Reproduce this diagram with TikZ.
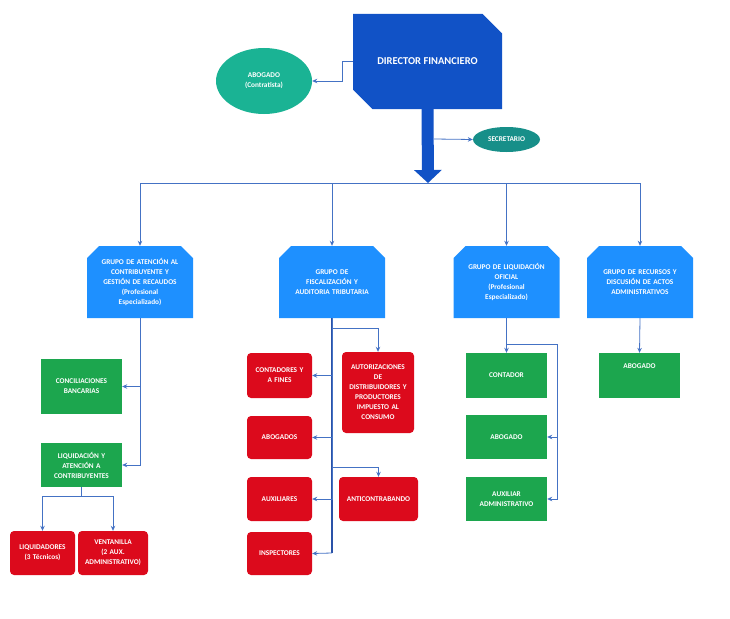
\documentclass[tikz,border=0pt]{standalone}
\usepackage{fontspec}
\setmainfont{Carlito}
\usepackage{tikz}
\usetikzlibrary{shapes.geometric,shapes.misc,arrows.meta}

\definecolor{dirblue}{HTML}{1152C6}
\definecolor{grpblue}{HTML}{1E90FF}
\definecolor{boxgreen}{HTML}{1CA64E}
\definecolor{boxred}{HTML}{DC0A1C}
\definecolor{tealA}{HTML}{1AB394}
\definecolor{tealB}{HTML}{178F89}
\definecolor{lineblue}{HTML}{4472C4}
\definecolor{darkline}{HTML}{2A52A8}

\begin{document}
\begin{tikzpicture}[x=1pt,y=-1pt,
	txt/.style={text=white,font=\bfseries\fontsize{7.3}{10}\selectfont,align=center,inner sep=0pt},
	director/.style={txt,chamfered rectangle,chamfered rectangle corners={north east,south west},chamfered rectangle xsep=16pt,chamfered rectangle ysep=16pt,fill=dirblue,minimum width=149pt,minimum height=95pt,font=\bfseries\fontsize{10.5}{12}\selectfont},
	grupo/.style={txt,chamfered rectangle,chamfered rectangle corners={north west,north east},chamfered rectangle xsep=6pt,chamfered rectangle ysep=6pt,fill=grpblue,minimum width=96pt,minimum height=72pt,text width=94pt},
	verde/.style={txt,rectangle,fill=boxgreen,minimum width=81pt,minimum height=44pt,text width=78pt},
	rojo/.style={txt,rectangle,rounded corners=4pt,fill=boxred,minimum width=65pt,minimum height=44pt,text width=64pt},
	elip/.style={txt,ellipse,inner sep=0pt},
	conn/.style={draw=lineblue,line width=0.8pt,-{Stealth[length=5pt,width=4.5pt]}},
	]
	\useasboundingbox (0,0) rectangle (730,618);

	% direccion
	\node[director](dir)at(427.5,61.5) {DIRECTOR FINANCIERO};
	\node[elip,fill=tealA,minimum width=96pt,minimum height=66pt](abg)at(264,81) {ABOGADO\\(Contratista)};
	\node[elip,fill=tealB,minimum width=67pt,minimum height=25pt](sec)at(506.5,139.5) {SECRETARIO};

	% grupos
	\node[grupo](g1)at(140,282) {GRUPO DE ATENCIÓN AL\\CONTRIBUYENTE Y\\GESTIÓN DE RECAUDOS\\(Profesional\\Especializado)};
	\node[grupo](g2)at(332,282) {GRUPO DE\\FISCALIZACIÓN Y\\AUDITORIA TRIBUTARIA};
	\node[grupo](g3)at(506.5,282) {GRUPO DE LIQUIDACIÓN\\OFICIAL\\(Profesional\\Especializado)};
	\node[grupo](g4)at(640,282) {GRUPO DE RECURSOS Y\\DISCUSIÓN DE ACTOS\\ADMINISTRATIVOS};

	% grupo 1
	\node[verde,minimum height=55pt](conc)at(81.5,386.5) {CONCILIACIONES\\BANCARIAS};
	\node[verde](liq)at(81.5,465) {LIQUIDACIÓN Y\\ATENCIÓN A\\CONTRIBUYENTES};
	\node[rojo](liqd)at(42.5,553) {LIQUIDADORES\\(3 Técnicos)};
	\node[rojo,minimum width=70pt,text width=69pt](vent)at(113,553) {VENTANILLA\\(2 AUX.\\ADMINISTRATIVO)};

	% grupo 2
	\node[rojo,minimum height=45pt](cont)at(279.5,375.5) {CONTADORES Y\\A FINES};
	\node[rojo,minimum height=43pt](abgs)at(279.5,437.5) {ABOGADOS};
	\node[rojo](aux)at(279.5,499) {AUXILIARES};
	\node[rojo,minimum height=43pt](insp)at(279.5,553.5) {INSPECTORES};
	\node[rojo,minimum width=72pt,minimum height=81pt,text width=71pt](aut)at(378,392.5) {AUTORIZACIONES\\DE\\DISTRIBUIDORES Y\\PRODUCTORES\\IMPUESTO AL\\CONSUMO};
	\node[rojo,minimum width=79pt,text width=78pt](anti)at(378.5,499) {ANTICONTRABANDO};

	% grupo 3 y 4
	\node[verde,minimum height=45pt](cont3)at(506.5,375.5) {CONTADOR};
	\node[verde](abg3)at(506.5,437) {ABOGADO};
	\node[verde](aux3)at(506.5,499) {AUXILIAR\\ADMINISTRATIVO};
	\node[verde,minimum height=45pt,text depth=19pt](abg4)at(639.5,375.5) {ABOGADO};

	\coordinate(top)at(428,183);
	\coordinate(sb)at(434,139);
	\coordinate(t2)at(332,467);
	\coordinate(e2)at(332,553);

	% conectores
	\draw[conn](dir.west) -- ++(-10,0) |- (abg.east);
	\draw[conn](sb) -- (sec.west);
	\draw[draw=lineblue,line width=0.8pt](g1.north |- top) -- (g4.north |- top);
	\foreach \g in {g1,g2,g3,g4}
		\draw[conn](\g.north |- top) -- (\g.north);
	\draw[draw=dirblue,line width=12pt,-{Triangle[width=27pt,length=13pt]}](dir.south) -- (top);

	\draw[conn](g1.south) |- (conc.east);
	\draw[conn](g1.south) |- (liq.east);
	\draw[conn](liq.south) -- ++(0,9) -| (liqd.north);
	\draw[conn](liq.south) -- ++(0,9) -| (vent.north);

	\draw[draw=darkline,line width=1.4pt](g2.south) -- (e2);
	\draw[conn](g2.south) |- (cont.east);
	\draw[conn](g2.south) |- (abgs.east);
	\draw[conn](g2.south) |- (aux.east);
	\draw[conn](e2) -- (insp.east);
	\draw[conn]([yshift=-10pt]g2.south) -| (aut.north);
	\draw[conn](t2) -| (anti.north);

	\draw[conn](g3.south) -- (cont3.north);
	\draw[conn]([yshift=-26pt]g3.south) -| ([xshift=10pt]aux3.east) -- (aux3.east);
	\draw[conn]([xshift=10pt]abg3.east) -- (abg3.east);
	\draw[conn](g4.south) -- (abg4.north);
\end{tikzpicture}
\end{document}
